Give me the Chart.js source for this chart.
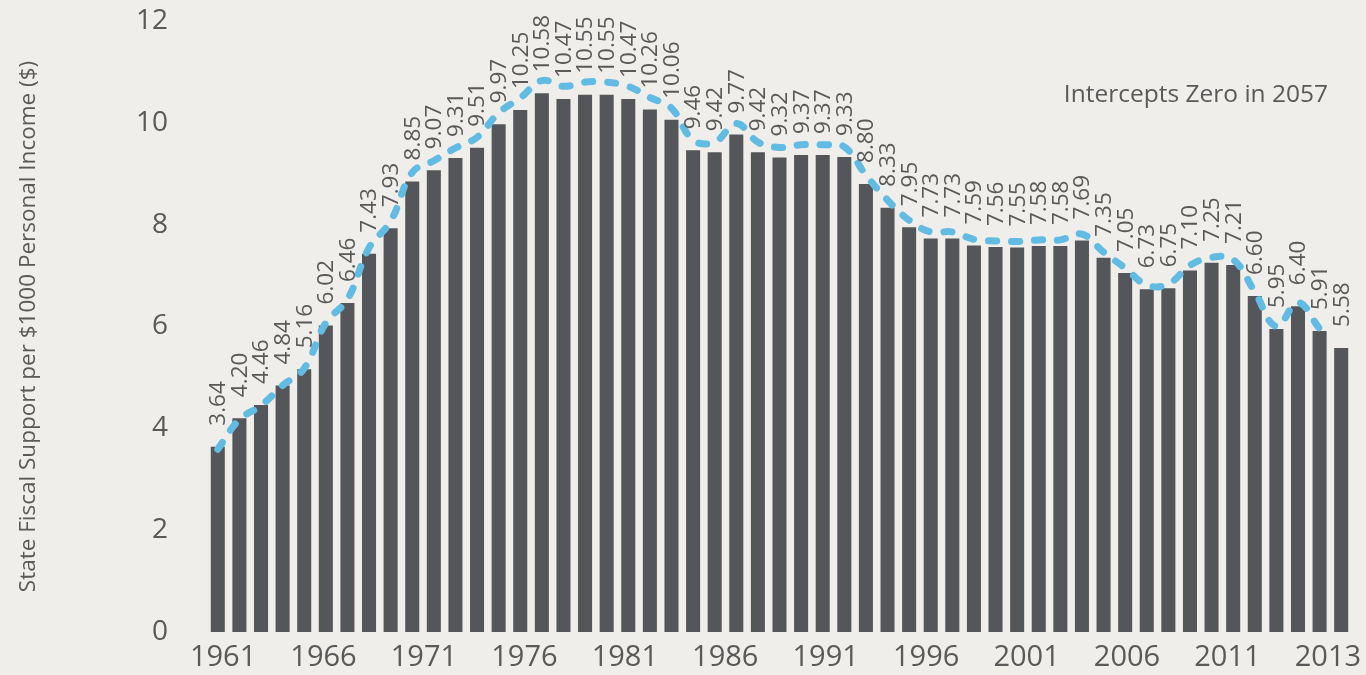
<!DOCTYPE html>
<html><head><meta charset="utf-8">
<script src="https://cdn.jsdelivr.net/npm/chart.js@4.4.1/dist/chart.umd.min.js"></script>
<style>html,body{margin:0;padding:0;background:#EFEEEA;}#wrap{width:1366px;height:675px;position:relative}</style>
</head><body><div id="wrap"><canvas id="c" width="1366" height="675"></canvas></div>
<script>
const years = ['1961','1962','1963','1964','1965','1966','1967','1968','1969','1970',
  '1971','1972','1973','1974','1975','1976','1977','1978','1979','1980',
  '1981','1982','1983','1984','1985','1986','1987','1988','1989','1990',
  '1991','1992','1993','1994','1995','1996','1997','1998','1999','2000',
  '2001','2002','2003','2004','2005','2006','2007','2008','2009','2010',
  '2011','2012','2013'];
const supportValues = [3.64,4.20,4.46,4.84,5.16,6.02,6.46,7.43,7.93,8.85,
  9.07,9.31,9.51,9.97,10.25,10.58,10.47,10.55,10.55,10.47,
  10.26,10.06,9.46,9.42,9.77,9.42,9.32,9.37,9.37,9.33,
  8.80,8.33,7.95,7.73,7.73,7.59,7.56,7.55,7.58,7.58,
  7.69,7.35,7.05,6.73,6.75,7.10,7.25,7.21,6.60,5.95,
  6.40,5.91,5.58];
const trendValues = [3.64,4.20,4.46,4.84,5.16,6.02,6.46,7.43,7.93,8.85,
  9.07,9.31,9.51,9.97,10.25,10.58,10.47,10.55,10.55,10.47,
  10.26,10.06,9.46,9.42,9.77,9.42,9.32,9.37,9.37,9.33,
  8.80,8.33,7.95,7.73,7.73,7.59,7.56,7.55,7.58,7.58,
  7.69,7.35,7.05,6.73,6.75,7.10,7.25,7.21,6.60,5.95,
  6.40,5.91,null];
const tickLabels = ['1961','1966','1971','1976','1981','1986','1991','1996','2001','2006','2011','2013'];
const yTicks = [0,2,4,6,8,10,12];
const noteText = 'Intercepts Zero in 2057';
const yTitle = 'State Fiscal Support per $1000 Personal Income ($)';

const TEXT = '#595959';
const FONT = "'Open Sans', 'Noto Sans', sans-serif";

const bgPlugin = {
  id: 'bg',
  beforeDraw(chart) {
    const c = chart.ctx;
    c.save(); c.fillStyle = '#EFEEEA'; c.fillRect(0, 0, chart.width, chart.height); c.restore();
  }
};
const labelPlugin = {
  id: 'barLabels',
  afterDatasetsDraw(chart) {
    const c = chart.ctx;
    const idx = chart.data.datasets.findIndex(d => d.type === 'bar');
    const meta = chart.getDatasetMeta(idx);
    c.save();
    c.fillStyle = TEXT;
    c.font = "22.5px " + FONT;
    c.textAlign = 'left';
    c.textBaseline = 'middle';
    meta.data.forEach((el, i) => {
      const v = chart.data.datasets[idx].data[i];
      c.save();
      c.translate(el.x, el.y - 21);
      c.rotate(-Math.PI / 2);
      c.fillText(v.toFixed(2), 0, 1);
      c.restore();
    });
    c.restore();
  },
  afterDraw(chart) {
    const c = chart.ctx;
    c.save();
    c.fillStyle = TEXT;
    c.font = "24.5px " + FONT;
    c.textAlign = 'right';
    c.textBaseline = 'alphabetic';
    c.fillText(noteText, chart.chartArea.right - 24, 102);
    c.restore();
  }
};

new Chart(document.getElementById('c'), {
  data: {
    labels: years,
    datasets: [
      {
        type: 'line', data: trendValues, xAxisID: 'x', yAxisID: 'y2', order: 0,
        borderColor: '#62BBE2', borderWidth: 7, borderDash: [8, 15], borderCapStyle: 'round',
        tension: 0.4, pointRadius: 0, fill: false, spanGaps: false
      },
      {
        type: 'bar', data: supportValues, xAxisID: 'x', yAxisID: 'y', order: 1,
        backgroundColor: '#55565A', barPercentage: 0.65, categoryPercentage: 1.0
      }
    ]
  },
  options: {
    responsive: false, animation: false, devicePixelRatio: 1,
    layout: { padding: { left: 0, right: 14, top: 21, bottom: 0 } },
    plugins: { legend: { display: false }, tooltip: { enabled: false } },
    scales: {
      x: { type: 'category', display: false, offset: true },
      x2: {
        type: 'linear', position: 'bottom', min: -0.16, max: 11.24,
        grid: { display: false, drawTicks: true, tickLength: 8 }, border: { display: false },
        afterBuildTicks: (axis) => { axis.ticks = tickLabels.map((t, i) => ({ value: i })); },
        afterFit: (axis) => { axis.height = 43; },
        ticks: {
          autoSkip: false, maxRotation: 0, padding: 0, color: TEXT,
          font: { family: FONT, size: 29 },
          callback: (v, i) => tickLabels[i]
        }
      },
      y: {
        type: 'linear', position: 'left', min: 0, max: 12,
        grid: { display: false, drawTicks: true, tickLength: 39 }, border: { display: false },
        afterBuildTicks: (axis) => { axis.ticks = yTicks.map(v => ({ value: v })); },
        afterFit: (axis) => { axis.width = 207; },
        ticks: { padding: 0, color: TEXT, font: { family: FONT, size: 28 } },
        title: { display: true, text: yTitle, color: TEXT, font: { family: FONT, size: 22.5 }, padding: { top: 15, bottom: 0 } }
      },
      y2: { type: 'linear', display: false, min: 0.2, max: 11.7 }
    }
  },
  plugins: [bgPlugin, labelPlugin]
});
</script></body></html>
